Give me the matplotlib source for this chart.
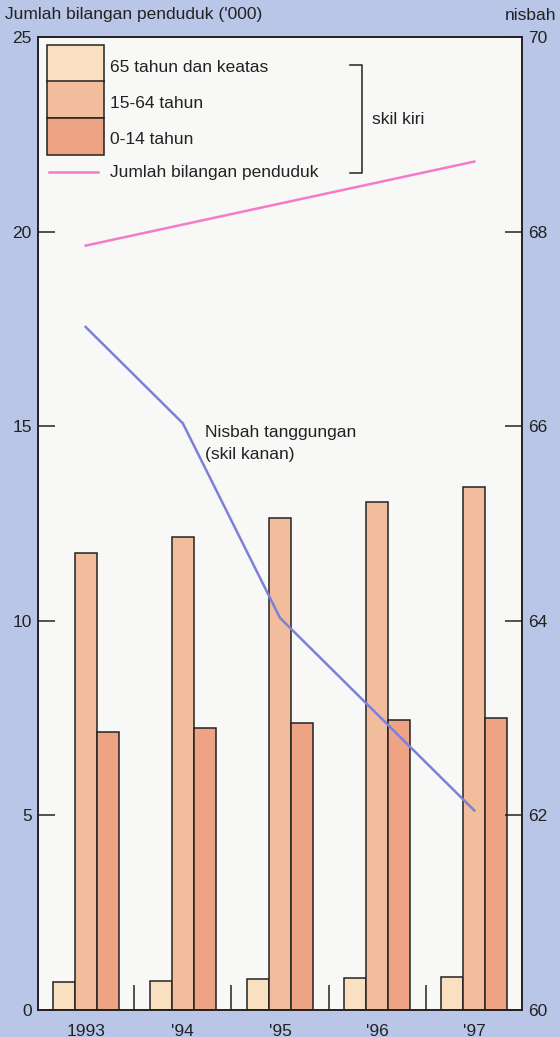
import numpy as np
import matplotlib
matplotlib.use("Agg")
import matplotlib.pyplot as plt
from matplotlib.patches import Rectangle
from matplotlib.lines import Line2D

plt.rcParams['font.family'] = ['Liberation Sans', 'DejaVu Sans']

years = ['1993', "'94", "'95", "'96", "'97"]
age_65 = [0.72, 0.75, 0.79, 0.81, 0.85]
age_15_64 = [11.75, 12.16, 12.65, 13.06, 13.44]
age_0_14 = [7.15, 7.25, 7.38, 7.45, 7.51]
total_pop = [19.64, 20.18, 20.72, 21.26, 21.80]
dep_ratio = [67.02, 66.03, 64.03, 63.04, 62.05]

bg = '#bac6e8'
c65 = '#f8e0c0'
c1564 = '#f2bd9c'
c014 = '#eea385'
pink = '#f27cc8'
blue = '#7d80d8'
ink = '#222222'
fs = 12.5

W, H = 560, 1037
fig = plt.figure(figsize=(W / 100, H / 100), dpi=100, facecolor=bg)
ax = fig.add_axes([38 / W, 1 - 1010 / H, (522 - 38) / W, (1010 - 37) / H])
ax.set_facecolor('#f8f8f6')

x = np.arange(len(years))
bw = 0.227
ax.bar(x - bw, age_65, bw, color=c65, edgecolor=ink, linewidth=1.1)
ax.bar(x, age_15_64, bw, color=c1564, edgecolor=ink, linewidth=1.1)
ax.bar(x + bw, age_0_14, bw, color=c014, edgecolor=ink, linewidth=1.1)

# small dividers between year groups
ax.vlines(x[:-1] + 0.5, 0, 0.65, color=ink, linewidth=1.1)

ax.plot(x, total_pop, color=pink, linewidth=1.8)

ax.set_xlim(-0.49, 4.49)
ax.set_ylim(0, 25)
ax.set_yticks([0, 5, 10, 15, 20, 25])
ax.set_xticks(x)
ax.set_xticklabels(years)
ax.tick_params(axis='x', length=0, pad=10, labelsize=fs, colors=ink)
ax.tick_params(axis='y', direction='in', length=12, width=1.1, pad=4.5,
               labelsize=fs, colors=ink)
for s in ax.spines.values():
    s.set_linewidth(1.2)
    s.set_color(ink)

ax2 = ax.twinx()
ax2.plot(x, dep_ratio, color=blue, linewidth=1.8)
ax2.set_ylim(60, 70)
ax2.set_yticks([60, 62, 64, 66, 68, 70])
ax2.tick_params(axis='y', direction='in', length=12, width=1.1, pad=4.5,
                labelsize=fs, colors=ink)
for s in ax2.spines.values():
    s.set_linewidth(1.2)
    s.set_color(ink)

fig.text(205 / W, 1 - 432 / H, 'Nisbah tanggungan', fontsize=fs, va='center', color=ink)
fig.text(205 / W, 1 - 454 / H, '(skil kanan)', fontsize=fs, va='center', color=ink)

# axis titles
fig.text(5 / W, 1 - 15 / H, "Jumlah bilangan penduduk ('000)", fontsize=fs,
         va='center', color=ink)
fig.text(505 / W, 1 - 15 / H, 'nisbah', fontsize=fs, va='center', color=ink)

# legend box, drawn by hand
labels = ['65 tahun dan keatas', '15-64 tahun', '0-14 tahun']
cols = [c65, c1564, c014]
tops = [45, 81, 118]
for lab, col, t in zip(labels, cols, tops):
    fig.patches.append(Rectangle((47 / W, 1 - (t + 37) / H), 57 / W, 37 / H,
                                 transform=fig.transFigure, facecolor=col,
                                 edgecolor=ink, linewidth=1.1))
    fig.text(110 / W, 1 - (t + 22) / H, lab, fontsize=fs, va='center', color=ink)
fig.lines.append(Line2D([49 / W, 98 / W], [1 - 172 / H, 1 - 172 / H],
                        transform=fig.transFigure, color=pink, linewidth=1.8))
fig.text(110 / W, 1 - 172 / H, 'Jumlah bilangan penduduk', fontsize=fs,
         va='center', color=ink)
# bracket
fig.lines.append(Line2D([350 / W, 362 / W, 362 / W, 350 / W],
                        [1 - 65 / H, 1 - 65 / H, 1 - 173 / H, 1 - 173 / H],
                        transform=fig.transFigure, color=ink, linewidth=1.1))
fig.text(372 / W, 1 - 119 / H, 'skil kiri', fontsize=fs, va='center', color=ink)

fig.savefig('out.png', dpi=100, facecolor=bg)
